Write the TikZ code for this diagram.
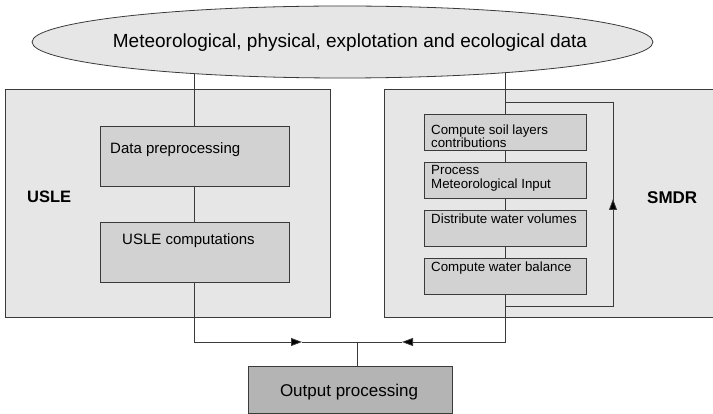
\documentclass[tikz,border=0pt]{standalone}
\usepackage{fontspec}
\setmainfont{Liberation Sans}
\usetikzlibrary{shapes.geometric,arrows.meta}
\pgfdeclarelayer{bg}
\pgfdeclarelayer{mid}
\pgfsetlayers{bg,mid,main}
\definecolor{lnc}{HTML}{3A3A3A}
\definecolor{outerfill}{HTML}{E6E6E6}
\definecolor{innerfill}{HTML}{D2D2D2}
\definecolor{outfill}{HTML}{B4B4B4}
\tikzset{
  ln/.style={draw=lnc, line width=0.8pt},
  arr/.style={ln, -{Triangle[length=11pt,width=8pt,fill=black]}},
  outerbox/.style={ln, fill=outerfill, rectangle, anchor=north west, inner sep=0pt, outer sep=0pt},
  innerbox/.style={ln, fill=innerfill, rectangle, anchor=north west, inner sep=0pt, outer sep=0pt},
  lbl/.style={anchor=base west, inner sep=0pt, align=left},
}
\begin{document}
\begin{tikzpicture}[x=1pt,y=-1pt]
\useasboundingbox (0,0) rectangle (713,414);

% outer boxes
\begin{pgfonlayer}{bg}
\fill[white] (0,0) rectangle (713,414);
\node[outerbox, minimum width=325pt, minimum height=228pt] (usle) at (5,89) {};
\node[outerbox, minimum width=334pt, minimum height=228pt] (smdr) at (384,89) {};
\end{pgfonlayer}

% ellipse
\node[ellipse, ln, fill=outerfill, minimum width=621pt, minimum height=72pt, inner sep=0pt] (ell) at (342.5,42) {};
\node[anchor=base, inner sep=0pt, font=\fontsize{19}{22}\selectfont] (elltxt) at (350,48) {Meteorological, physical, explotation and ecological data};

% USLE inner boxes
\node[innerbox, minimum width=189pt, minimum height=60pt] (dp) at (100,126) {};
\node[lbl, font=\fontsize{15}{18}\selectfont] (dptxt) at (110,154) {Data preprocessing};
\node[innerbox, minimum width=189pt, minimum height=60pt] (uc) at (100,222) {};
\node[lbl, font=\fontsize{15}{18}\selectfont] (uctxt) at (122,245) {USLE computations};
\node[lbl, font=\bfseries\fontsize{16.5}{19}\selectfont] (usletxt) at (27,203) {USLE};

% SMDR inner boxes
\node[innerbox, minimum width=162pt, minimum height=36pt] (c1) at (424,114) {};
\node[lbl, font=\fontsize{13.3}{11.6}\selectfont] (c1txt) at (431,147.6) {Compute soil layers\\contributions};
\node[innerbox, minimum width=162pt, minimum height=36pt] (c2) at (424,162) {};
\node[lbl, font=\fontsize{13.3}{14.7}\selectfont] (c2txt) at (431,189) {Process\\Meteorological Input};
\node[innerbox, minimum width=162pt, minimum height=36pt] (c3) at (424,210) {};
\node[lbl, font=\fontsize{13.3}{15}\selectfont] (c3txt) at (431,224) {Distribute water volumes};
\node[innerbox, minimum width=162pt, minimum height=36pt] (c4) at (424,258) {};
\node[lbl, font=\fontsize{13.3}{15}\selectfont] (c4txt) at (431,271.7) {Compute water balance};
\node[lbl, font=\bfseries\fontsize{17}{20}\selectfont] (smdrtxt) at (647,204) {SMDR};

% output box
\node[rectangle, ln, fill=outfill, anchor=north west, inner sep=0pt, minimum width=204pt, minimum height=47pt] (op) at (248,366) {};
\node[anchor=base, inner sep=0pt, font=\fontsize{17}{20}\selectfont] (optxt) at (349,396.7) {Output processing};

% coordinates
\coordinate (jn) at (357,342);
\coordinate (al) at (302,342);
\coordinate (ar) at (402,342);
\coordinate (lt) at (c1.north |- 0,102);
\coordinate (lb) at (c1.north |- 0,306);
\coordinate (lrt) at (613,102);
\coordinate (lrb) at (613,306);
\coordinate (lm) at (613,199);

% connectors
\begin{pgfonlayer}{mid}
\draw[ln] (ell.center -| dp.north) -- (dp.north);
\draw[ln] (ell.center -| c1.north) -- (c1.north);
\end{pgfonlayer}
\draw[ln] (dp.south) -- (uc.north);
\draw[ln] (c1.south) -- (c2.north);
\draw[ln] (c2.south) -- (c3.north);
\draw[ln] (c3.south) -- (c4.north);
\draw[arr] (uc.south) |- (al);
\draw[ln] (al) -- (ar);
\draw[arr] (c4.south) |- (ar);
\draw[ln] (jn) -- (op.north -| jn);
\draw[ln] (lb) -- (lrb) -- (lrt) -- (lt);
\draw[arr] (lrb) -- (lm);
\end{tikzpicture}
\end{document}
